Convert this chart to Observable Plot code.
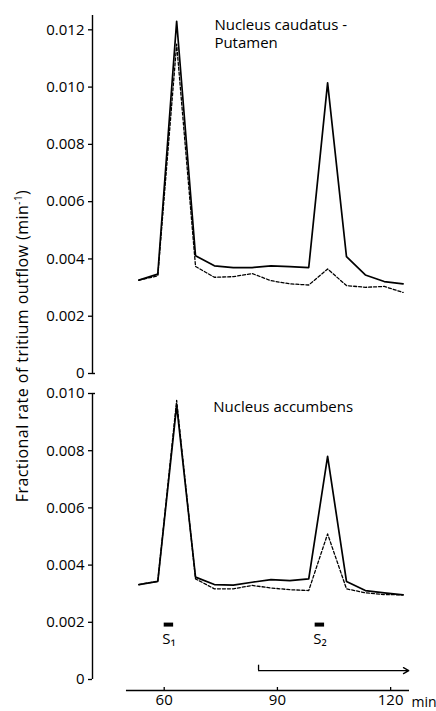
<!DOCTYPE html>
<html><head><meta charset="utf-8">
<script src="https://cdn.jsdelivr.net/npm/d3@7"></script>
<script src="https://cdn.jsdelivr.net/npm/@observablehq/plot@0.6"></script>
<style>
body{margin:0;background:#fff;}
#wrap{position:relative;width:436px;height:711px;font-family:"Open Sans",sans-serif;color:#000;}
#wrap svg{position:absolute;left:0;top:0;background:transparent;}
#ylab{position:absolute;left:22px;top:346px;transform:translate(-50%,-50%) rotate(-90deg);white-space:nowrap;font-size:16px;letter-spacing:0.45px;}
</style></head><body><div id="wrap"><div id="ylab">Fractional rate of tritium outflow (min<sup style="font-size:10px">-1</sup>)</div></div>
<script>
// time of each collected fraction (min)
const times = [53.3, 58.3, 63.3, 68.3, 73.3, 78.3, 83.3, 88.3, 93.3, 98.3, 103.3, 108.3, 113.3, 118.3, 123.3];
// Nucleus caudatus - Putamen
const caudSolid  = [0.00326, 0.00347, 0.0123, 0.00411, 0.00376, 0.00370, 0.00370, 0.00376, 0.00373, 0.00370, 0.01015, 0.00408, 0.00344, 0.00321, 0.00313];
const caudDashed = [0.00326, 0.00341, 0.0115, 0.00374, 0.00336, 0.00338, 0.00349, 0.00324, 0.00313, 0.00309, 0.00365, 0.00307, 0.00301, 0.00304, 0.00283];
// Nucleus accumbens
const accSolid  = [0.00332, 0.00343, 0.00958, 0.00358, 0.00332, 0.00330, 0.00340, 0.00349, 0.00346, 0.00352, 0.00780, 0.00343, 0.00311, 0.00303, 0.00296];
const accDashed = [0.00332, 0.00343, 0.00976, 0.00352, 0.00317, 0.00317, 0.00329, 0.00320, 0.00314, 0.00311, 0.00509, 0.00317, 0.00303, 0.00297, 0.00296];

const xDomain = [41, 125];
const xTicks = [60, 90, 120];
const yTicksTop = [0, 0.002, 0.004, 0.006, 0.008, 0.010, 0.012];
const yTicksBottom = [0, 0.002, 0.004, 0.006, 0.008, 0.010];
const topTitle = [{text: "Nucleus caudatus -", t: 73.3, v: 0.01215}, {text: "Putamen", t: 73.3, v: 0.01152}];
const bottomTitle = [{text: "Nucleus accumbens", t: 73, v: 0.00951}];
const stimuli = [{label: "S\u2081", t1: 60, t2: 62.5}, {label: "S\u2082", t1: 100, t2: 102.5}];
const stimLevel = 0.00192;
const drugPeriod = {t1: 85, t2: 124.8, level: 0.00031, top: 0.0005};
const axisSpan = [50, 125];
const serif = 0.8; // short end stroke on the vertical axes (min)

const caud = times.map((t, i) => ({t, solid: caudSolid[i], dashed: caudDashed[i]}));
const acc = times.map((t, i) => ({t, solid: accSolid[i], dashed: accDashed[i]}));
const fmt = d => d === 0 ? "0" : d3.format(".3f")(d);
const style = {fontFamily: "'Open Sans', sans-serif", fontSize: "15px", background: "transparent", overflow: "visible", color: "#000"};

const wrap = document.getElementById("wrap");

const topPlot = Plot.plot({
  width: 436, height: 711,
  marginLeft: 92, marginRight: 27, marginTop: 15, marginBottom: 338,
  style,
  x: {domain: xDomain, axis: null},
  y: {domain: [0, 0.0125], axis: null},
  marks: [
    Plot.ruleX([xDomain[0]], {y1: 0, y2: 0.0125, stroke: "#000", strokeWidth: 1.4}),
    Plot.ruleY([0], {x1: xDomain[0], x2: xDomain[0] + serif, stroke: "#000", strokeWidth: 1.4}),
    Plot.axisY(yTicksTop, {tickSize: 4, tickPadding: 4, tickFormat: fmt, fontSize: 15, label: null, stroke: "#000", strokeWidth: 1.3}),
    Plot.line(caud, {x: "t", y: "dashed", stroke: "#000", strokeWidth: 1.3, strokeDasharray: "3,2"}),
    Plot.line(caud, {x: "t", y: "solid", stroke: "#000", strokeWidth: 1.7}),
    Plot.text(topTitle, {x: "t", y: "v", text: "text", textAnchor: "start", fontSize: 15})
  ]
});
wrap.appendChild(topPlot);

const bottomPlot = Plot.plot({
  width: 436, height: 711,
  marginLeft: 92, marginRight: 27, marginTop: 393, marginBottom: 32,
  style,
  x: {domain: xDomain, axis: null},
  y: {domain: [0, 0.010], axis: null},
  marks: [
    Plot.ruleX([xDomain[0]], {y1: 0, y2: 0.010, stroke: "#000", strokeWidth: 1.4}),
    Plot.ruleY([0.010], {x1: xDomain[0], x2: xDomain[0] + serif, stroke: "#000", strokeWidth: 1.4}),
    Plot.axisY(yTicksBottom, {tickSize: 4, tickPadding: 4, tickFormat: fmt, fontSize: 15, label: null, stroke: "#000", strokeWidth: 1.3}),
    Plot.ruleY([0], {x1: axisSpan[0], x2: axisSpan[1], dy: 11, stroke: "#000", strokeWidth: 1.3}),
    Plot.axisX(xTicks, {tickSize: 3, tickPadding: 4, dy: 8, fontSize: 15, label: null, stroke: "#000", strokeWidth: 1.3}),
    Plot.text(["min"], {x: xDomain[1], y: 0, dy: 23, dx: 2, textAnchor: "start", fontSize: 14}),
    Plot.line(acc, {x: "t", y: "dashed", stroke: "#000", strokeWidth: 1.3, strokeDasharray: "3,2"}),
    Plot.line(acc, {x: "t", y: "solid", stroke: "#000", strokeWidth: 1.7}),
    Plot.text(bottomTitle, {x: "t", y: "v", text: "text", textAnchor: "start", fontSize: 15}),
    Plot.ruleY(stimuli, {x1: "t1", x2: "t2", y: stimLevel, stroke: "#000", strokeWidth: 4}),
    Plot.text(stimuli, {x: d => (d.t1 + d.t2) / 2, y: stimLevel, dy: 15, text: "label", fontSize: 15}),
    Plot.ruleX([drugPeriod], {x: "t1", y1: "level", y2: "top", stroke: "#000", strokeWidth: 1.3}),
    Plot.arrow([drugPeriod], {x1: "t1", x2: "t2", y1: "level", y2: "level", stroke: "#000", strokeWidth: 1.3, headLength: 7})
  ]
});
wrap.appendChild(bottomPlot);
</script></body></html>
